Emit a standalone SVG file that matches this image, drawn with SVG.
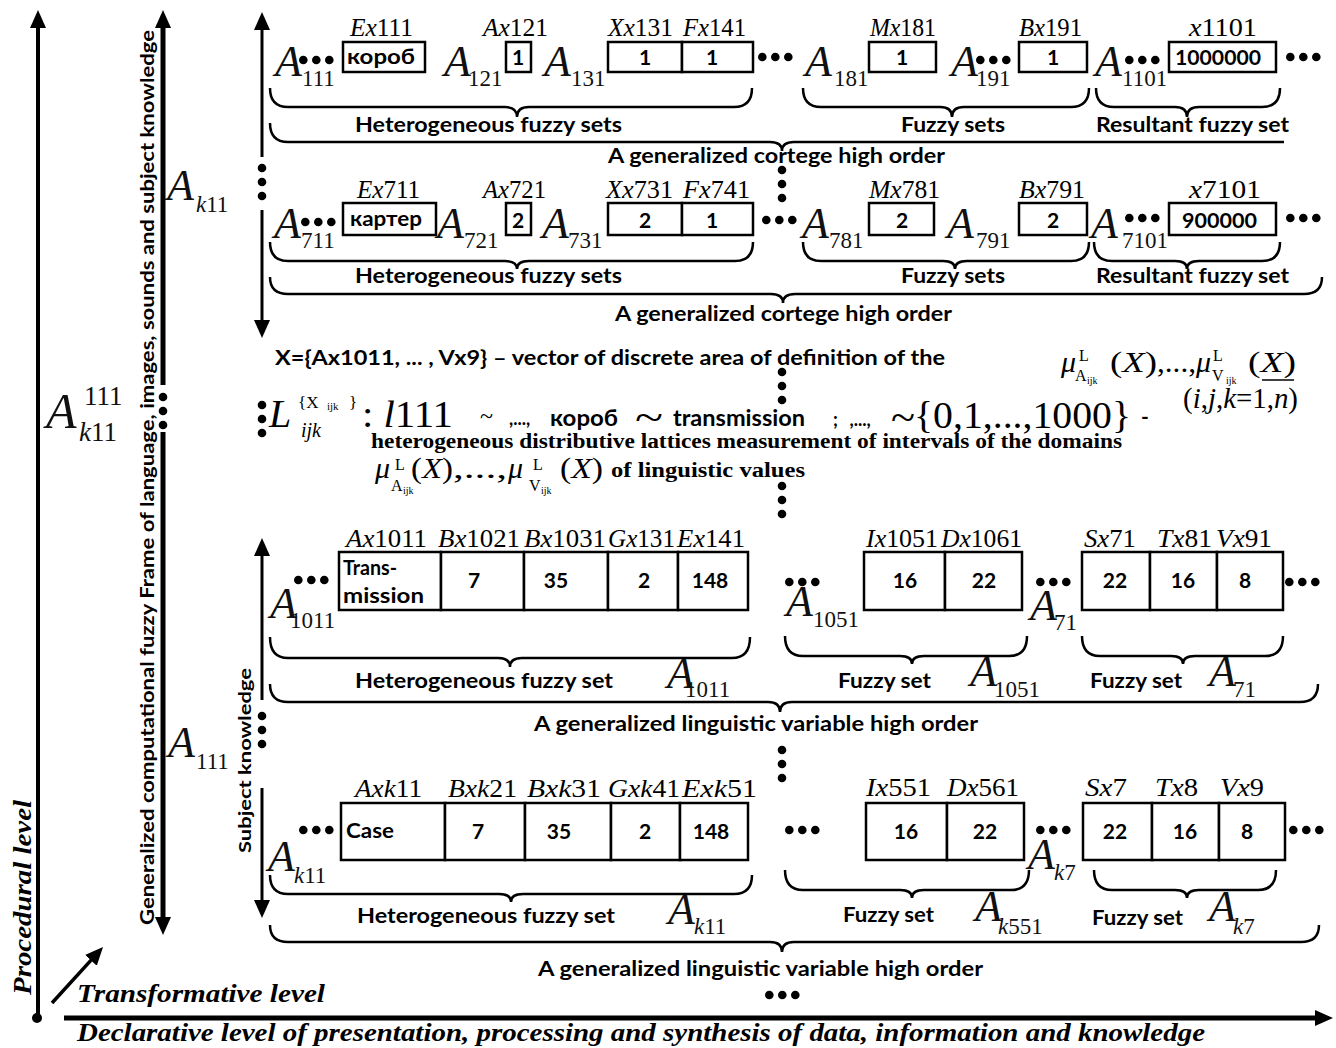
<svg xmlns="http://www.w3.org/2000/svg" width="1336" height="1048" viewBox="0 0 1336 1048">
<style>
.lb{font-family:"Liberation Serif","Times New Roman",serif;font-size:25px;fill:#000}
.lb2{font-family:"Liberation Serif","Times New Roman",serif;font-size:26px;fill:#000}
.i{font-style:italic}
.A{font-family:"Liberation Serif","Times New Roman",serif;font-style:italic;font-size:44px;fill:#111}
.sb{font-family:"Liberation Serif","Times New Roman",serif;font-size:23px;fill:#111}
.bx{fill:#fff;stroke:#000;stroke-width:2.5}
.t{font-family:Lato,"Liberation Sans",sans-serif;font-weight:bold;font-size:21px;fill:#000}
.c{text-anchor:middle}
.br{fill:none;stroke:#000;stroke-width:2.5}
.ax{stroke:#000;fill:none}
.m{font-family:"Liberation Serif","Times New Roman",serif;font-size:30px;fill:#000}
.bs{font-family:"Liberation Serif","Times New Roman",serif;font-weight:bold;font-size:20px;fill:#000}
.lvl{font-family:"Liberation Serif","Times New Roman",serif;font-weight:bold;font-style:italic;font-size:26px;fill:#000}
</style>
<defs>
<marker id="ah" viewBox="0 0 18 16" refX="4" refY="8" markerWidth="18" markerHeight="16" markerUnits="userSpaceOnUse" orient="auto"><path d="M0,0 L18,8 L0,16 Z" fill="#000"/></marker>
<g id="h3"><circle cx="4.3" cy="0" r="4.3"/><circle cx="17.3" cy="0" r="4.3"/><circle cx="30.3" cy="0" r="4.3"/></g>
<g id="v3"><circle cx="0" cy="0" r="4.3"/><circle cx="0" cy="14" r="4.3"/><circle cx="0" cy="28" r="4.3"/></g>
</defs>
<rect width="1336" height="1048" fill="#fff"/>

<g id="connectors">
<line class="ax" x1="38" y1="1017" x2="38" y2="24" stroke-width="4" marker-end="url(#ah)"/>
<line class="ax" x1="163" y1="385" x2="163" y2="24" stroke-width="5" marker-end="url(#ah)"/>
<line class="ax" x1="163" y1="432" x2="163" y2="921" stroke-width="5" marker-end="url(#ah)"/>
<line class="ax" x1="262" y1="157" x2="262" y2="26" stroke-width="3" marker-end="url(#ah)"/>
<line class="ax" x1="262" y1="210" x2="262" y2="324" stroke-width="3" marker-end="url(#ah)"/>
<line class="ax" x1="262" y1="700" x2="262" y2="552" stroke-width="3" marker-end="url(#ah)"/>
<line class="ax" x1="262" y1="788" x2="262" y2="904" stroke-width="3" marker-end="url(#ah)"/>
<line class="ax" x1="52" y1="1003" x2="93.6" y2="957.4" stroke-width="3.5" marker-end="url(#ah)"/>
<line class="ax" x1="64" y1="1018" x2="1319" y2="1018" stroke-width="5" marker-end="url(#ah)"/>
<circle cx="37" cy="1018" r="5"/>
<use href="#v3" x="163" y="397"/>
<use href="#v3" x="262" y="168"/>
<use href="#v3" x="262" y="405"/>
<use href="#v3" x="262" y="716"/>
<use href="#v3" x="782" y="170"/>
<use href="#v3" x="782" y="372"/>
<use href="#v3" x="782" y="486"/>
<use href="#v3" x="782" y="750"/>
<use href="#h3" x="765" y="995"/>
<path class="br" d="M270,88 Q270,107 288,107 H505 Q517,107 517,117 Q517,107 529,107 H734 Q752,107 752,88"/>
<path class="br" d="M803,88 Q803,107 821,107 H940 Q952,107 952,117 Q952,107 964,107 H1071 Q1089,107 1089,88"/>
<path class="br" d="M1096,88 Q1096,107 1114,107 H1175 Q1187,107 1187,117 Q1187,107 1199,107 H1262 Q1280,107 1280,88"/>
<path class="br" d="M270,123 Q270,142 288,142 H770 Q782,142 782,151 Q782,142 794,142 H1284"/>
<path class="br" d="M270,242 Q270,261 288,261 H505 Q517,261 517,269 Q517,261 529,261 H735 Q753,261 753,242"/>
<path class="br" d="M803,242 Q803,261 821,261 H943 Q955,261 955,269 Q955,261 967,261 H1071 Q1089,261 1089,242"/>
<path class="br" d="M1094,242 Q1094,261 1112,261 H1175 Q1187,261 1187,269 Q1187,261 1199,261 H1262 Q1280,261 1280,242"/>
<path class="br" d="M270,277 Q270,294 288,294 H771 Q783,294 783,303 Q783,294 795,294 H1304 Q1322,294 1322,277"/>
<path class="br" d="M270,637 Q270,658 288,658 H498 Q510,658 510,667 Q510,658 522,658 H732 Q750,658 750,637"/>
<path class="br" d="M785,636 Q785,656 803,656 H900 Q912,656 912,664 Q912,656 924,656 H1009 Q1027,656 1027,636"/>
<path class="br" d="M1082,636 Q1082,656 1100,656 H1171 Q1183,656 1183,664 Q1183,656 1195,656 H1265 Q1283,656 1283,636"/>
<path class="br" d="M270,684 Q270,702 288,702 H768 Q780,702 780,712 Q780,702 792,702 H1300 Q1318,702 1318,684"/>
<path class="br" d="M270,875 Q270,894 288,894 H499 Q511,894 511,902 Q511,894 523,894 H734 Q752,894 752,875"/>
<path class="br" d="M785,870 Q785,890 803,890 H900 Q912,890 912,898 Q912,890 924,890 H1011 Q1029,890 1029,870"/>
<path class="br" d="M1094,870 Q1094,890 1112,890 H1175 Q1187,890 1187,898 Q1187,890 1199,890 H1258 Q1276,890 1276,870"/>
<path class="br" d="M270,925 Q270,942 288,942 H770 Q782,942 782,952 Q782,942 794,942 H1301 Q1319,942 1319,925"/>
</g>

<g id="levels">
<text class="lvl" transform="translate(31,995) rotate(-90)" textLength="195" lengthAdjust="spacingAndGlyphs">Procedural level</text>
<text class="lvl" x="77" y="1002" textLength="248" lengthAdjust="spacingAndGlyphs">Transformative level</text>
<text class="lvl" x="77" y="1041" textLength="1128" lengthAdjust="spacingAndGlyphs">Declarative level of presentation, processing and synthesis of data, information and knowledge</text>
</g>

<g id="frame">
<text class="t" transform="translate(154,925) rotate(-90)" style="font-size:18px" textLength="895" lengthAdjust="spacingAndGlyphs">Generalized computational fuzzy Frame of language, images, sounds and subject knowledge</text>
<text class="t" transform="translate(251,853) rotate(-90)" style="font-size:17px" textLength="185" lengthAdjust="spacingAndGlyphs">Subject knowledge</text>
<text class="A" x="46" y="428" style="font-size:50px">A</text><text class="sb" x="84" y="405" style="font-size:27px">111</text><text class="sb" x="79" y="441" style="font-size:27px"><tspan class="i">k</tspan>11</text>
<text class="A" x="167" y="200">A</text><text class="sb" x="196" y="212"><tspan class="i">k</tspan>11</text>
<text class="A" x="168" y="757">A</text><text class="sb" x="196" y="769">111</text>
</g>

<g id="row1">
<text class="lb" x="350" y="36" textLength="63" lengthAdjust="spacingAndGlyphs"><tspan class="i">Ex</tspan>111</text>
<text class="lb" x="483" y="36" textLength="65" lengthAdjust="spacingAndGlyphs"><tspan class="i">Ax</tspan>121</text>
<text class="lb" x="608" y="36" textLength="65" lengthAdjust="spacingAndGlyphs"><tspan class="i">Xx</tspan>131</text>
<text class="lb" x="683" y="36" textLength="63" lengthAdjust="spacingAndGlyphs"><tspan class="i">Fx</tspan>141</text>
<text class="lb" x="870" y="36" textLength="66" lengthAdjust="spacingAndGlyphs"><tspan class="i">Mx</tspan>181</text>
<text class="lb" x="1019" y="36" textLength="63" lengthAdjust="spacingAndGlyphs"><tspan class="i">Bx</tspan>191</text>
<text class="lb" x="1189" y="36" textLength="68" lengthAdjust="spacingAndGlyphs"><tspan class="i">x</tspan>1101</text>
<text class="A" x="275" y="76">A</text><text class="sb" x="302" y="86">111</text>
<text class="A" x="444" y="76">A</text><text class="sb" x="468" y="86">121</text>
<text class="A" x="544" y="76">A</text><text class="sb" x="571" y="86">131</text>
<text class="A" x="805" y="76">A</text><text class="sb" x="834" y="86">181</text>
<text class="A" x="951" y="76">A</text><text class="sb" x="976" y="86">191</text>
<text class="A" x="1095" y="76">A</text><text class="sb" x="1122" y="86">1101</text>
<use href="#h3" x="299" y="60"/><use href="#h3" x="758" y="57"/><use href="#h3" x="976" y="60"/><use href="#h3" x="1125" y="60"/><use href="#h3" x="1286" y="57"/>
<rect class="bx" x="343" y="42" width="82" height="30"/>
<rect class="bx" x="506" y="42" width="25" height="30"/>
<rect class="bx" x="608" y="42" width="74" height="30"/><rect class="bx" x="682" y="42" width="71" height="30"/>
<rect class="bx" x="869" y="42" width="67" height="30"/>
<rect class="bx" x="1019" y="42" width="68" height="30"/>
<rect class="bx" x="1169" y="42" width="107" height="30"/>
<text class="t" x="347" y="64" textLength="68" lengthAdjust="spacingAndGlyphs">короб</text>
<text class="t c" x="518" y="65">1</text><text class="t c" x="645" y="65">1</text><text class="t c" x="712" y="65">1</text>
<text class="t c" x="902" y="65">1</text><text class="t c" x="1053" y="65">1</text>
<text class="t" x="1175" y="65" textLength="86" lengthAdjust="spacingAndGlyphs">1000000</text>
<text class="t" x="355" y="132" textLength="267" lengthAdjust="spacingAndGlyphs">Heterogeneous fuzzy sets</text>
<text class="t" x="901" y="132" textLength="104" lengthAdjust="spacingAndGlyphs">Fuzzy sets</text>
<text class="t" x="1096" y="132" textLength="193" lengthAdjust="spacingAndGlyphs">Resultant fuzzy set</text>
<text class="t" x="608" y="163" textLength="337" lengthAdjust="spacingAndGlyphs">A generalized cortege high order</text>
</g>

<g id="row2">
<text class="lb" x="357" y="198" textLength="63" lengthAdjust="spacingAndGlyphs"><tspan class="i">Ex</tspan>711</text>
<text class="lb" x="483" y="198" textLength="63" lengthAdjust="spacingAndGlyphs"><tspan class="i">Ax</tspan>721</text>
<text class="lb" x="606" y="198" textLength="67" lengthAdjust="spacingAndGlyphs"><tspan class="i">Xx</tspan>731</text>
<text class="lb" x="683" y="198" textLength="67" lengthAdjust="spacingAndGlyphs"><tspan class="i">Fx</tspan>741</text>
<text class="lb" x="869" y="198" textLength="71" lengthAdjust="spacingAndGlyphs"><tspan class="i">Mx</tspan>781</text>
<text class="lb" x="1019" y="198" textLength="66" lengthAdjust="spacingAndGlyphs"><tspan class="i">Bx</tspan>791</text>
<text class="lb" x="1189" y="198" textLength="72" lengthAdjust="spacingAndGlyphs"><tspan class="i">x</tspan>7101</text>
<text class="A" x="274" y="238">A</text><text class="sb" x="301" y="248">711</text>
<text class="A" x="437" y="238">A</text><text class="sb" x="464" y="248">721</text>
<text class="A" x="542" y="238">A</text><text class="sb" x="568" y="248">731</text>
<text class="A" x="802" y="238">A</text><text class="sb" x="829" y="248">781</text>
<text class="A" x="947" y="238">A</text><text class="sb" x="976" y="248">791</text>
<text class="A" x="1091" y="238">A</text><text class="sb" x="1122" y="248">7101</text>
<use href="#h3" x="301" y="222"/><use href="#h3" x="762" y="220"/><use href="#h3" x="1125" y="218"/><use href="#h3" x="1286" y="218"/>
<rect class="bx" x="343" y="203" width="93" height="32"/>
<rect class="bx" x="506" y="203" width="25" height="32"/>
<rect class="bx" x="608" y="203" width="74" height="32"/><rect class="bx" x="682" y="203" width="71" height="32"/>
<rect class="bx" x="869" y="203" width="65" height="32"/>
<rect class="bx" x="1019" y="203" width="68" height="32"/>
<rect class="bx" x="1169" y="203" width="107" height="32"/>
<text class="t" x="350" y="226" textLength="72" lengthAdjust="spacingAndGlyphs">картер</text>
<text class="t c" x="518" y="228">2</text><text class="t c" x="645" y="228">2</text><text class="t c" x="712" y="228">1</text>
<text class="t c" x="902" y="228">2</text><text class="t c" x="1053" y="228">2</text>
<text class="t" x="1182" y="228" textLength="75" lengthAdjust="spacingAndGlyphs">900000</text>
<text class="t" x="355" y="283" textLength="267" lengthAdjust="spacingAndGlyphs">Heterogeneous fuzzy sets</text>
<text class="t" x="901" y="283" textLength="104" lengthAdjust="spacingAndGlyphs">Fuzzy sets</text>
<text class="t" x="1096" y="283" textLength="193" lengthAdjust="spacingAndGlyphs">Resultant fuzzy set</text>
<text class="t" x="615" y="321" textLength="337" lengthAdjust="spacingAndGlyphs">A generalized cortege high order</text>
</g>

<g id="definition">
<text class="t" x="275" y="365" textLength="670" lengthAdjust="spacingAndGlyphs">X={Ax1011, ... , Vx9} – vector of discrete area of definition of the</text>
<text class="m i" x="1061" y="372">μ</text><text class="m" x="1079" y="361" style="font-size:16px">L</text><text class="m" x="1075" y="381" style="font-size:16px">A</text><text class="m" x="1087" y="384" style="font-size:10px">ijk</text>
<text class="m" x="1110" y="372" textLength="47" lengthAdjust="spacingAndGlyphs">(<tspan class="i">X</tspan>)</text>
<text class="m" x="1157" y="372" textLength="39" lengthAdjust="spacingAndGlyphs">,...,</text>
<text class="m i" x="1196" y="372">μ</text><text class="m" x="1213" y="361" style="font-size:16px">L</text><text class="m" x="1212" y="381" style="font-size:16px">V</text><text class="m" x="1226" y="384" style="font-size:10px">ijk</text>
<text class="m" x="1248" y="372" textLength="48" lengthAdjust="spacingAndGlyphs">(<tspan class="i">X</tspan>)</text>
<line x1="1262" y1="380" x2="1294" y2="380" stroke="#000" stroke-width="1.5"/>
<text class="m" x="1183" y="408" textLength="115" lengthAdjust="spacingAndGlyphs">(<tspan class="i">i</tspan>,<tspan class="i">j</tspan>,<tspan class="i">k</tspan>=1,<tspan class="i">n</tspan>)</text>
<text class="m i" x="269" y="427" style="font-size:40px">L</text>
<text class="m" x="298" y="408" style="font-size:17px">{X</text><text class="m" x="327" y="410" style="font-size:11px">ijk</text><text class="m" x="349" y="408" style="font-size:17px">}</text>
<text class="m i" x="301" y="437" style="font-size:20px">ijk</text>
<text class="m" x="362" y="427" style="font-size:38px" textLength="91" lengthAdjust="spacingAndGlyphs">: <tspan class="i">l</tspan>111</text>
<text class="m" x="480" y="424" style="font-size:24px">~</text>
<text class="t" x="509" y="425" style="font-size:18px">,...,</text>
<text class="t" x="550" y="426" style="font-size:23px" textLength="68" lengthAdjust="spacingAndGlyphs">короб</text>
<text class="m" x="635" y="431" style="font-size:40px" textLength="28" lengthAdjust="spacingAndGlyphs">~</text>
<text class="t" x="673" y="426" style="font-size:22px" textLength="132" lengthAdjust="spacingAndGlyphs">transmission</text>
<text class="t" x="833" y="426" style="font-size:18px">;</text>
<text class="t i" x="850" y="426" style="font-size:18px">,...,</text>
<text class="m" x="891" y="431" style="font-size:40px" textLength="24" lengthAdjust="spacingAndGlyphs">~</text>
<text class="m" x="914" y="428" style="font-size:38px" textLength="217" lengthAdjust="spacingAndGlyphs">{0,1,...,1000}</text>
<text class="t" x="1141" y="424">-</text>
<text class="bs" x="371" y="448" textLength="751" lengthAdjust="spacingAndGlyphs">heterogeneous distributive lattices measurement of intervals of the domains</text>
<text class="m i" x="375" y="478">μ</text><text class="m" x="395" y="470" style="font-size:16px">L</text><text class="m" x="391" y="491" style="font-size:16px">A</text><text class="m" x="403" y="494" style="font-size:10px">ijk</text>
<text class="m" x="411" y="478" textLength="42" lengthAdjust="spacingAndGlyphs">(<tspan class="i">X</tspan>)</text>
<text class="m" x="453" y="478" textLength="54" lengthAdjust="spacingAndGlyphs">,...,</text>
<text class="m i" x="508" y="478">μ</text><text class="m" x="533" y="470" style="font-size:16px">L</text><text class="m" x="529" y="491" style="font-size:16px">V</text><text class="m" x="541" y="494" style="font-size:10px">ijk</text>
<text class="m" x="560" y="478" textLength="43" lengthAdjust="spacingAndGlyphs">(<tspan class="i">X</tspan>)</text>
<text class="bs" x="611" y="477" textLength="194" lengthAdjust="spacingAndGlyphs">of linguistic values</text>
</g>

<g id="row3">
<text class="lb2" x="346" y="547" textLength="81" lengthAdjust="spacingAndGlyphs"><tspan class="i">Ax</tspan>1011</text>
<text class="lb2" x="438" y="547" textLength="82" lengthAdjust="spacingAndGlyphs"><tspan class="i">Bx</tspan>1021</text>
<text class="lb2" x="524" y="547" textLength="82" lengthAdjust="spacingAndGlyphs"><tspan class="i">Bx</tspan>1031</text>
<text class="lb2" x="608" y="547" textLength="67" lengthAdjust="spacingAndGlyphs"><tspan class="i">Gx</tspan>131</text>
<text class="lb2" x="677" y="547" textLength="68" lengthAdjust="spacingAndGlyphs"><tspan class="i">Ex</tspan>141</text>
<text class="lb2" x="866" y="547" textLength="72" lengthAdjust="spacingAndGlyphs"><tspan class="i">Ix</tspan>1051</text>
<text class="lb2" x="941" y="547" textLength="81" lengthAdjust="spacingAndGlyphs"><tspan class="i">Dx</tspan>1061</text>
<text class="lb2" x="1084" y="547" textLength="52" lengthAdjust="spacingAndGlyphs"><tspan class="i">Sx</tspan>71</text>
<text class="lb2" x="1157" y="547" textLength="55" lengthAdjust="spacingAndGlyphs"><tspan class="i">Tx</tspan>81</text>
<text class="lb2" x="1216" y="547" textLength="56" lengthAdjust="spacingAndGlyphs"><tspan class="i">Vx</tspan>91</text>
<use href="#h3" x="294" y="580"/><use href="#h3" x="785" y="582"/><use href="#h3" x="1036" y="582"/><use href="#h3" x="1285" y="582"/>
<text class="A" x="270" y="618">A</text><text class="sb" x="290" y="628">1011</text>
<text class="A" x="786" y="616">A</text><text class="sb" x="813" y="627">1051</text>
<text class="A" x="1030" y="620">A</text><text class="sb" x="1054" y="630">71</text>
<rect class="bx" x="339" y="552" width="102" height="58"/><rect class="bx" x="441" y="552" width="83" height="58"/><rect class="bx" x="524" y="552" width="84" height="58"/><rect class="bx" x="608" y="552" width="70" height="58"/><rect class="bx" x="678" y="552" width="70" height="58"/>
<rect class="bx" x="864" y="552" width="81" height="58"/><rect class="bx" x="945" y="552" width="77" height="58"/>
<rect class="bx" x="1082" y="552" width="68" height="58"/><rect class="bx" x="1150" y="552" width="67" height="58"/><rect class="bx" x="1217" y="552" width="66" height="58"/>
<text class="t" x="343" y="575" textLength="54" lengthAdjust="spacingAndGlyphs">Trans-</text>
<text class="t" x="343" y="603" textLength="81" lengthAdjust="spacingAndGlyphs">mission</text>
<text class="t c" x="474" y="588">7</text><text class="t c" x="556" y="588">35</text><text class="t c" x="644" y="588">2</text><text class="t c" x="710" y="588">148</text>
<text class="t c" x="905" y="588">16</text><text class="t c" x="984" y="588">22</text>
<text class="t c" x="1115" y="588">22</text><text class="t c" x="1183" y="588">16</text><text class="t c" x="1245" y="588">8</text>
<text class="t" x="355" y="688" textLength="258" lengthAdjust="spacingAndGlyphs">Heterogeneous fuzzy set</text>
<text class="A" x="667" y="688">A</text><text class="sb" x="685" y="697">1011</text>
<text class="t" x="838" y="688" textLength="93" lengthAdjust="spacingAndGlyphs">Fuzzy set</text>
<text class="A" x="970" y="686">A</text><text class="sb" x="994" y="697">1051</text>
<text class="t" x="1090" y="688" textLength="92" lengthAdjust="spacingAndGlyphs">Fuzzy set</text>
<text class="A" x="1209" y="686">A</text><text class="sb" x="1233" y="697">71</text>
<text class="t" x="534" y="731" textLength="444" lengthAdjust="spacingAndGlyphs">A generalized linguistic variable high order</text>
</g>

<g id="row4">
<text class="lb2" x="355" y="797" textLength="67" lengthAdjust="spacingAndGlyphs"><tspan class="i">Axk</tspan>11</text>
<text class="lb2" x="448" y="797" textLength="69" lengthAdjust="spacingAndGlyphs"><tspan class="i">Bxk</tspan>21</text>
<text class="lb2" x="527" y="797" textLength="74" lengthAdjust="spacingAndGlyphs"><tspan class="i">Bxk</tspan>31</text>
<text class="lb2" x="608" y="797" textLength="72" lengthAdjust="spacingAndGlyphs"><tspan class="i">Gxk</tspan>41</text>
<text class="lb2" x="682" y="797" textLength="75" lengthAdjust="spacingAndGlyphs"><tspan class="i">Exk</tspan>51</text>
<text class="lb2" x="866" y="796" textLength="65" lengthAdjust="spacingAndGlyphs"><tspan class="i">Ix</tspan>551</text>
<text class="lb2" x="947" y="796" textLength="72" lengthAdjust="spacingAndGlyphs"><tspan class="i">Dx</tspan>561</text>
<text class="lb2" x="1085" y="796" textLength="42" lengthAdjust="spacingAndGlyphs"><tspan class="i">Sx</tspan>7</text>
<text class="lb2" x="1155" y="796" textLength="43" lengthAdjust="spacingAndGlyphs"><tspan class="i">Tx</tspan>8</text>
<text class="lb2" x="1220" y="796" textLength="44" lengthAdjust="spacingAndGlyphs"><tspan class="i">Vx</tspan>9</text>
<use href="#h3" x="299" y="830"/><use href="#h3" x="785" y="830"/><use href="#h3" x="1036" y="830"/><use href="#h3" x="1289" y="830"/>
<text class="A" x="268" y="871">A</text><text class="sb" x="294" y="883"><tspan class="i">k</tspan>11</text>
<text class="A" x="1028" y="869">A</text><text class="sb" x="1054" y="880"><tspan class="i">k</tspan>7</text>
<rect class="bx" x="341" y="803" width="104" height="57"/><rect class="bx" x="445" y="803" width="80" height="57"/><rect class="bx" x="525" y="803" width="86" height="57"/><rect class="bx" x="611" y="803" width="69" height="57"/><rect class="bx" x="680" y="803" width="68" height="57"/>
<rect class="bx" x="866" y="803" width="81" height="57"/><rect class="bx" x="947" y="803" width="77" height="57"/>
<rect class="bx" x="1083" y="803" width="69" height="57"/><rect class="bx" x="1152" y="803" width="67" height="57"/><rect class="bx" x="1219" y="803" width="66" height="57"/>
<text class="t" x="346" y="838" textLength="48" lengthAdjust="spacingAndGlyphs">Case</text>
<text class="t c" x="478" y="839">7</text><text class="t c" x="559" y="839">35</text><text class="t c" x="645" y="839">2</text><text class="t c" x="711" y="839">148</text>
<text class="t c" x="906" y="839">16</text><text class="t c" x="985" y="839">22</text>
<text class="t c" x="1115" y="839">22</text><text class="t c" x="1185" y="839">16</text><text class="t c" x="1247" y="839">8</text>
<text class="t" x="357" y="923" textLength="258" lengthAdjust="spacingAndGlyphs">Heterogeneous fuzzy set</text>
<text class="A" x="668" y="924">A</text><text class="sb" x="694" y="934"><tspan class="i">k</tspan>11</text>
<text class="t" x="843" y="922" textLength="91" lengthAdjust="spacingAndGlyphs">Fuzzy set</text>
<text class="A" x="975" y="921">A</text><text class="sb" x="998" y="934"><tspan class="i">k</tspan>551</text>
<text class="t" x="1092" y="925" textLength="91" lengthAdjust="spacingAndGlyphs">Fuzzy set</text>
<text class="A" x="1209" y="921">A</text><text class="sb" x="1233" y="934"><tspan class="i">k</tspan>7</text>
<text class="t" x="538" y="976" textLength="445" lengthAdjust="spacingAndGlyphs">A generalized linguistic variable high order</text>
</g>
</svg>
